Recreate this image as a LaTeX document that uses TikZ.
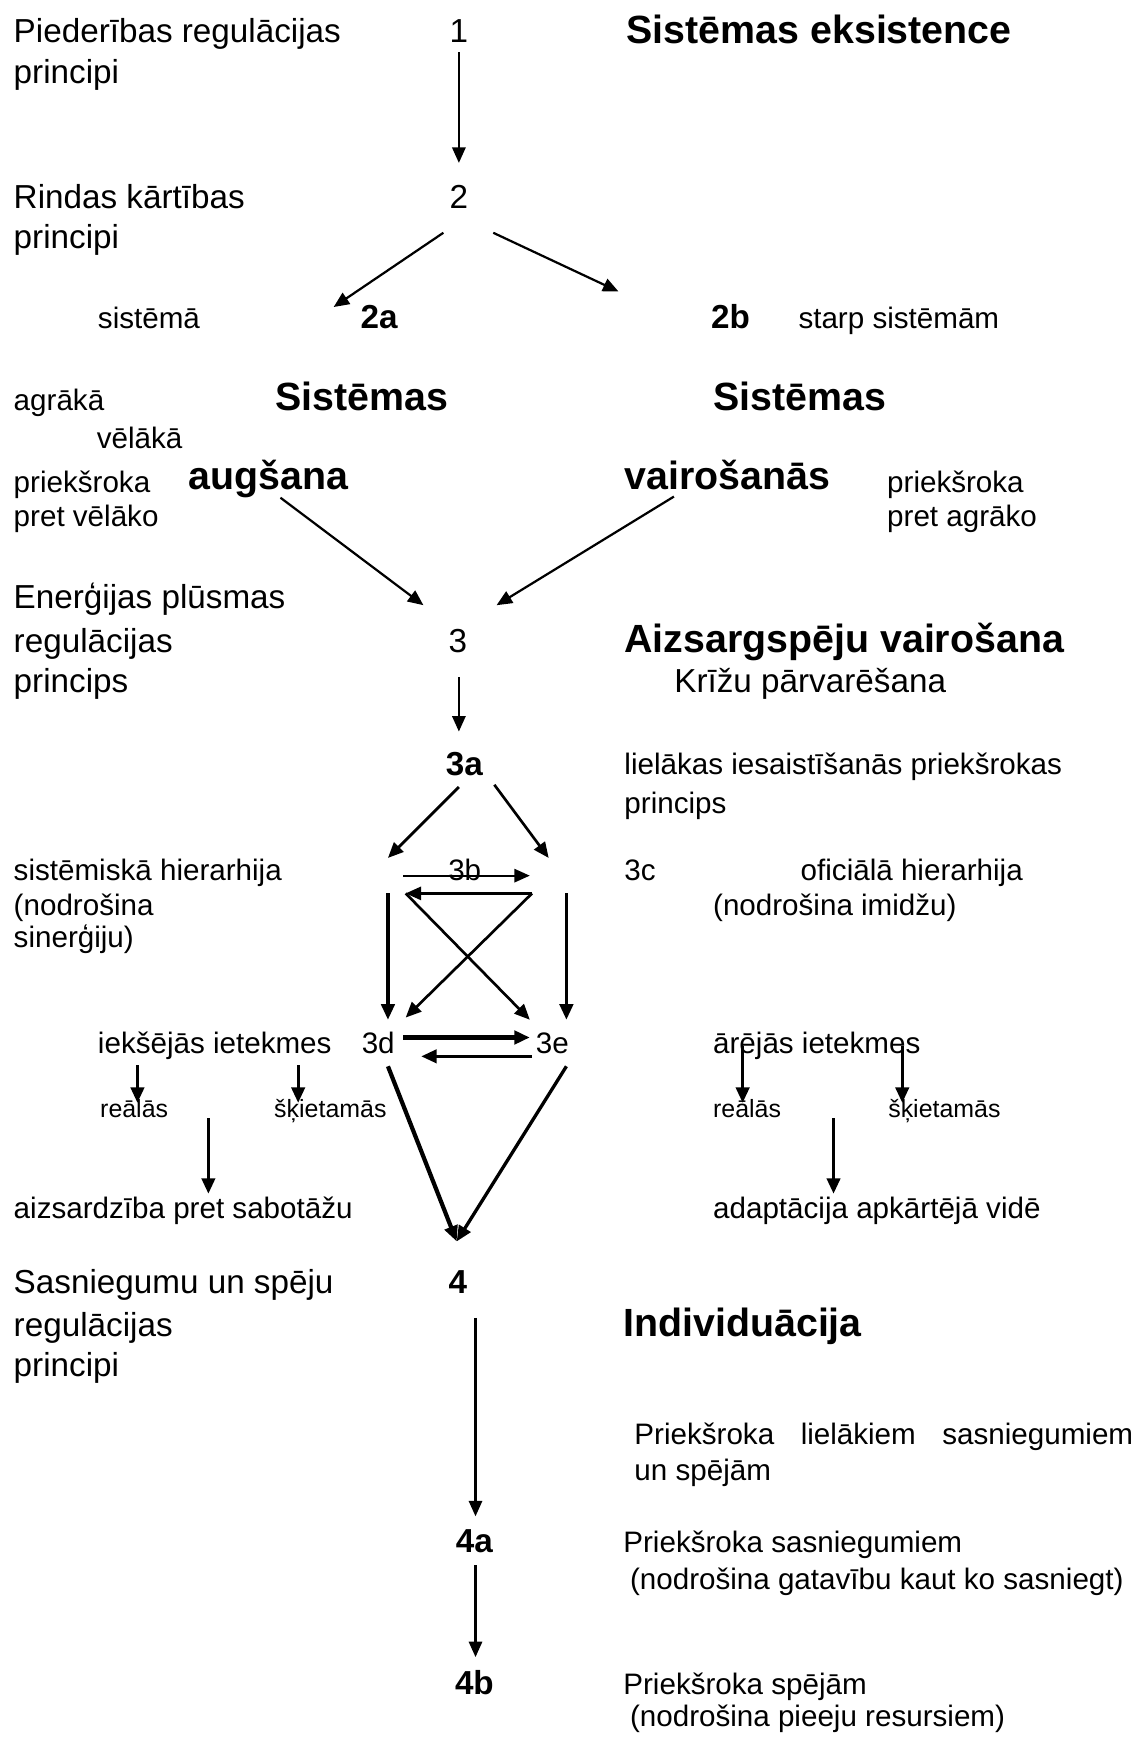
\documentclass[tikz,border=0pt]{standalone}
\usepackage{fontspec}
\setmainfont{Liberation Sans}
\usetikzlibrary{arrows.meta}

\begin{document}
\begin{tikzpicture}[
  x=0.5pt, y=-0.5pt,
  every node/.style={inner sep=0pt, anchor=base west},
  lbl/.style={font=\fontsize{15}{18}\selectfont},
  headlbl/.style={font=\fontsize{17.75}{21}\selectfont\bfseries},
  sml/.style={font=\fontsize{13.35}{16}\selectfont},
  tinylbl/.style={font=\fontsize{11.25}{13}\selectfont},
  num/.style={font=\fontsize{15}{18}\selectfont, anchor=base},
  bnum/.style={font=\fontsize{15}{18}\selectfont\bfseries, anchor=base},
  arr/.style={-{Triangle[length=7pt,width=6pt]}, line width=1pt},
  mid/.style={arr, line width=1.2pt},
  thk/.style={arr, line width=1.5pt},
  hvy/.style={arr, line width=1.9pt},
]
  \useasboundingbox (0,0) rectangle (1024,1568);

  % left column: principles
  \node[lbl] (p1a) at (12,38)   {Piederības regulācijas};
  \node[lbl] (p1b) at (12,75)   {principi};
  \node[lbl] (p2a) at (12,188)  {Rindas kārtības};
  \node[lbl] (p2b) at (12,224)  {principi};
  \node[lbl] (p3a) at (12,549)  {Enerģijas plūsmas};
  \node[lbl] (p3b) at (12,589)  {regulācijas};
  \node[lbl] (p3c) at (12,625)  {princips};
  \node[lbl] (p4a) at (12,1167) {Sasniegumu un spēju};
  \node[lbl] (p4b) at (12,1206) {regulācijas};
  \node[lbl] (p4c) at (12,1242) {principi};

  % middle column: steps
  \node[num]  (n1)  at (414,38)   {1};
  \node[num]  (n2)  at (414,188)  {2};
  \node[bnum] (n2a) at (342,296)  {2a};
  \node[bnum] (n2b) at (659,296)  {2b};
  \node[num]  (n3)  at (413,589)  {3};
  \node[bnum] (n3a) at (419,700)  {3a};
  \node[sml]  (n3b) at (404,794)  {3b};
  \node[sml]  (n3c) at (563,794)  {3c};
  \node[sml]  (n3d) at (326,950)  {3d};
  \node[sml]  (n3e) at (483,950)  {3e};
  \node[bnum] (n4)  at (413,1167) {4};
  \node[bnum] (n4a) at (428,1401) {4a};
  \node[bnum] (n4b) at (428,1529) {4b};

  % right column: headings
  \node[headlbl] (h1)  at (565,39)   {Sistēmas eksistence};
  \node[headlbl] (h2a) at (248,370)  {Sistēmas};
  \node[headlbl] (h2b) at (170,442)  {augšana};
  \node[headlbl] (h2c) at (643,370)  {Sistēmas};
  \node[headlbl] (h2d) at (563,442)  {vairošanās};
  \node[headlbl] (h3)  at (563,589)  {Aizsargspēju vairošana};
  \node[lbl]     (k3)  at (608,625)  {Krīžu pārvarēšana};
  \node[headlbl] (h4)  at (562,1206) {Individuācija};

  % side notes
  \node[sml] (s2a) at (88,296)  {sistēmā};
  \node[sml] (s2b) at (720,296) {starp sistēmām};
  \node[sml] (g1)  at (12,370)  {agrākā};
  \node[sml] (g2)  at (87,405)  {vēlākā};
  \node[sml] (g3)  at (12,444)  {priekšroka};
  \node[sml] (g4)  at (12,475)  {pret vēlāko};
  \node[sml] (v1)  at (800,444) {priekšroka};
  \node[sml] (v2)  at (800,475) {pret agrāko};
  \node[sml] (l1)  at (563,699) {lielākas iesaistīšanās priekšrokas};
  \node[sml] (l2)  at (563,734) {princips};
  \node[sml] (sh1) at (12,794)  {sistēmiskā hierarhija};
  \node[sml] (sh2) at (12,826)  {(nodrošina};
  \node[sml] (sh3) at (12,855)  {sinerģiju)};
  \node[sml] (oh1) at (722,794) {oficiālā hierarhija};
  \node[sml] (oh2) at (643,826) {(nodrošina imidžu)};
  \node[sml] (ie)  at (88,950)  {iekšējās ietekmes};
  \node[sml] (ae)  at (643,950) {ārējās ietekmes};
  \node[tinylbl] (ier) at (90,1008)  {reālās};
  \node[tinylbl] (ies) at (247,1008) {šķietamās};
  \node[tinylbl] (aer) at (643,1008) {reālās};
  \node[tinylbl] (aes) at (801,1008) {šķietamās};
  \node[sml] (sab) at (12,1099)  {aizsardzība pret sabotāžu};
  \node[sml] (adp) at (643,1099) {adaptācija apkārtējā vidē};
  \node[sml] (i1)  at (572,1303) {\makebox[225pt][s]{Priekšroka lielākiem sasniegumiem}};
  \node[sml] (i2)  at (572,1336) {un spējām};
  \node[sml] (i3)  at (562,1401) {Priekšroka sasniegumiem};
  \node[sml] (i4)  at (568,1434) {(nodrošina gatavību kaut ko sasniegt)};
  \node[sml] (i5)  at (562,1529) {Priekšroka spējām};
  \node[sml] (i6)  at (568,1558) {(nodrošina pieeju resursiem)};

  % arrow ends
  \coordinate (a1s) at (414,47);   \coordinate (a1e) at (414,147);
  \coordinate (a2ls) at (400,210); \coordinate (a2le) at (301,277);
  \coordinate (a2rs) at (445,210); \coordinate (a2re) at (558,263);
  \coordinate (a3ls) at (253,449); \coordinate (a3le) at (382,546);
  \coordinate (a3rs) at (608,448); \coordinate (a3re) at (448,546);
  \coordinate (a3s) at (414,611);  \coordinate (a3e) at (414,660);
  \coordinate (sl) at (414,710);   \coordinate (sr) at (446,708);
  \coordinate (bl) at (350,774);   \coordinate (br) at (495,774);
  \coordinate (ul) at (364,790);   \coordinate (ur) at (478,790);
  \coordinate (tl) at (366,806);   \coordinate (tr) at (480,806);
  \coordinate (ml) at (350,806);   \coordinate (mr) at (511,806);
  \coordinate (dl) at (350,920);   \coordinate (dr) at (511,920);
  \coordinate (xl) at (366,918);   \coordinate (xr) at (478,920);
  \coordinate (el) at (364,936);   \coordinate (er) at (478,936);
  \coordinate (fr) at (480,953);   \coordinate (fl) at (380,953);
  \coordinate (ls) at (350,962);   \coordinate (rs) at (511,962);
  \coordinate (tip4) at (412,1120);
  \coordinate (a4s) at (429,1189); \coordinate (a4e) at (429,1368);
  \coordinate (a5s) at (429,1412); \coordinate (a5e) at (429,1495);
  % side arrow ends
  \coordinate (r1s) at (124,961);  \coordinate (r1e) at (124,995);
  \coordinate (r2s) at (269,961);  \coordinate (r2e) at (269,995);
  \coordinate (r3s) at (188,1009); \coordinate (r3e) at (188,1077);
  \coordinate (q1s) at (670,944);  \coordinate (q1e) at (670,995);
  \coordinate (q2s) at (814,944);  \coordinate (q2e) at (814,995);
  \coordinate (q3s) at (752,1009); \coordinate (q3e) at (752,1077);

  \draw[arr] (a1s) -- (a1e);
  \draw[arr] (a2ls) -- (a2le);
  \draw[arr] (a2rs) -- (a2re);
  \draw[arr] (a3ls) -- (a3le);
  \draw[arr] (a3rs) -- (a3re);
  \draw[arr] (a3s) -- (a3e);
  \draw[mid] (sl) -- (bl);
  \draw[mid] (sr) -- (br);

  % 3b square
  \draw[arr] (ul) -- (ur);
  \draw[arr] (tr) -- (tl);
  \draw[mid] (tl) -- (xr);
  \draw[mid] (tr) -- (xl);
  \draw[thk] (ml) -- (dl);
  \draw[thk] (mr) -- (dr);
  \draw[hvy] (el) -- (er);
  \draw[thk] (fr) -- (fl);

  % influences
  \draw[thk] (r1s) -- (r1e);
  \draw[thk] (r2s) -- (r2e);
  \draw[thk] (r3s) -- (r3e);
  \draw[thk] (q1s) -- (q1e);
  \draw[thk] (q2s) -- (q2e);
  \draw[thk] (q3s) -- (q3e);

  % into 4
  \draw[hvy] (ls) -- (tip4);
  \draw[thk] (rs) -- (tip4);
  \draw[arr] (a4s) -- (a4e);
  \draw[arr] (a5s) -- (a5e);
\end{tikzpicture}
\end{document}
